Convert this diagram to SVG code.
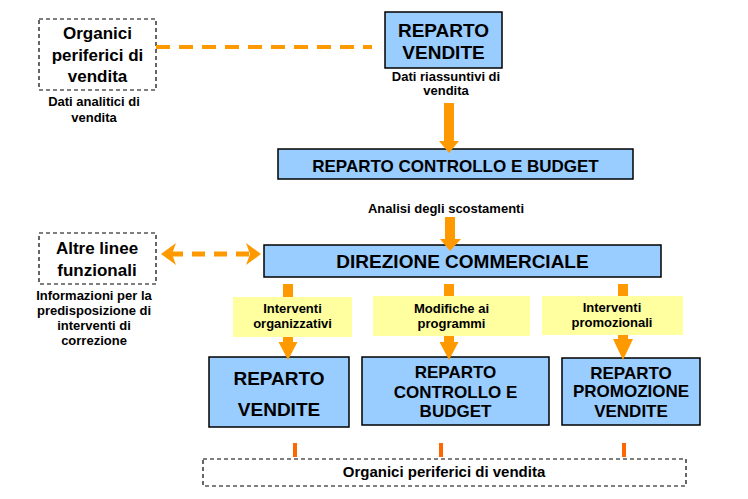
<svg xmlns="http://www.w3.org/2000/svg" width="748" height="499" viewBox="0 0 748 499">
<style>
text{font-family:"Liberation Sans",Arial,sans-serif;font-weight:bold;fill:#000;text-anchor:middle}
.blue{fill:#99CCFF;stroke:#000;stroke-width:1.5}
.dash{fill:#fff;stroke:#000;stroke-width:1.2;stroke-dasharray:4 3}
.yel{fill:#FFFFA0;stroke:none}
.arr{fill:#FF9900;stroke:none}
.mark{fill:#FF6600}
.h19{font-size:19px}
.h17{font-size:17px}
.h15{font-size:15px}
.s13{font-size:13px}
</style>
<rect width="748" height="499" fill="#fff"/>

<g id="organici-top">
<rect class="dash" x="39" y="19" width="117" height="71"/>
<text class="h17" x="97.5" y="39">Organici</text>
<text class="h17" x="97.5" y="61">periferici di</text>
<text class="h17" x="97.5" y="82">vendita</text>
<text class="s13" x="94" y="106">Dati analitici di</text>
<text class="s13" x="94" y="122">vendita</text>
</g>

<g id="reparto-vendite-top">
<rect class="blue" x="385" y="12" width="117" height="56"/>
<text class="h19" x="443.5" y="37">REPARTO</text>
<text class="h19" x="443.5" y="59">VENDITE</text>
<text class="s13" x="446" y="81">Dati riassuntivi di</text>
<text class="s13" x="446" y="95">vendita</text>
</g>

<g id="controllo-budget">
<rect class="blue" x="278" y="149" width="355" height="30"/>
<text class="h17" x="455.5" y="172">REPARTO CONTROLLO E BUDGET</text>
<text class="s13" x="446" y="213">Analisi degli scostamenti</text>
</g>

<g id="direzione">
<rect class="blue" x="264" y="245" width="397" height="32"/>
<text class="h19" x="462.5" y="268">DIREZIONE COMMERCIALE</text>
</g>

<g id="altre-linee">
<rect class="dash" x="39" y="233" width="117" height="51"/>
<text class="h17" x="97" y="254">Altre linee</text>
<text class="h17" x="97" y="276">funzionali</text>
<text class="s13" x="94" y="300">Informazioni per la</text>
<text class="s13" x="94" y="315">predisposizione di</text>
<text class="s13" x="94" y="330">interventi di</text>
<text class="s13" x="94" y="345">correzione</text>
</g>

<g id="reparto-vendite">
<rect class="blue" x="209" y="357" width="140" height="70"/>
<text class="h19" x="279" y="385">REPARTO</text>
<text class="h19" x="279" y="416">VENDITE</text>
</g>

<g id="reparto-controllo">
<rect class="blue" x="362" y="357" width="187" height="68"/>
<text class="h17" x="455.5" y="378">REPARTO</text>
<text class="h17" x="455.5" y="398">CONTROLLO E</text>
<text class="h17" x="455.5" y="417">BUDGET</text>
</g>

<g id="reparto-promozione">
<rect class="blue" x="562" y="358" width="138" height="67"/>
<text class="h17" x="631" y="379">REPARTO</text>
<text class="h17" x="631" y="397">PROMOZIONE</text>
<text class="h17" x="631" y="417">VENDITE</text>
</g>

<g id="organici-bottom">
<rect class="dash" x="203" y="459" width="483" height="27"/>
<text class="h15" x="444" y="477">Organici periferici di vendita</text>
</g>

<g id="connectors">
<line x1="156" y1="47" x2="372" y2="47" stroke="#FF9900" stroke-width="4" stroke-dasharray="14 9"/>
<polygon class="arr" points="444,103 454,103 454,141 459,141 449,153 439,141 444,141"/>
<polygon class="arr" points="445,217 455,217 455,239 461,239 450,251 440,239 445,239"/>

<line x1="170" y1="254" x2="250" y2="254" stroke="#FF9900" stroke-width="5" stroke-dasharray="13 9"/>
<polygon class="arr" points="161,254 176,243 172,254 176,265"/>
<polygon class="arr" points="261,254 246,243 250,254 246,265"/>

<rect class="arr" x="283" y="284" width="10" height="13"/>
<rect class="arr" x="444" y="284" width="10" height="12"/>
<rect class="arr" x="618" y="284" width="10" height="12"/>

<rect class="yel" x="233" y="297" width="119" height="40"/>
<text class="s13" x="292.5" y="313">Interventi</text>
<text class="s13" x="292.5" y="328">organizzativi</text>
<rect class="yel" x="373" y="296" width="157" height="40"/>
<text class="s13" x="451.5" y="313">Modifiche ai</text>
<text class="s13" x="451.5" y="328">programmi</text>
<rect class="yel" x="542" y="296" width="141" height="39"/>
<text class="s13" x="612" y="312">Interventi</text>
<text class="s13" x="612" y="327">promozionali</text>

<polygon class="arr" points="283,337 293,337 293,342 297.5,342 288,360 278.5,342 283,342"/>
<polygon class="arr" points="444,336 454,336 454,342 458.5,342 449,360 439.5,342 444,342"/>
<polygon class="arr" points="618,335 628,335 628,339 633,339 623,360 613,339 618,339"/>

<rect class="mark" x="293" y="443" width="4" height="14"/>
<rect class="mark" x="439" y="443" width="4" height="14"/>
<rect class="mark" x="622" y="443" width="4" height="14"/>
</g>
</svg>
